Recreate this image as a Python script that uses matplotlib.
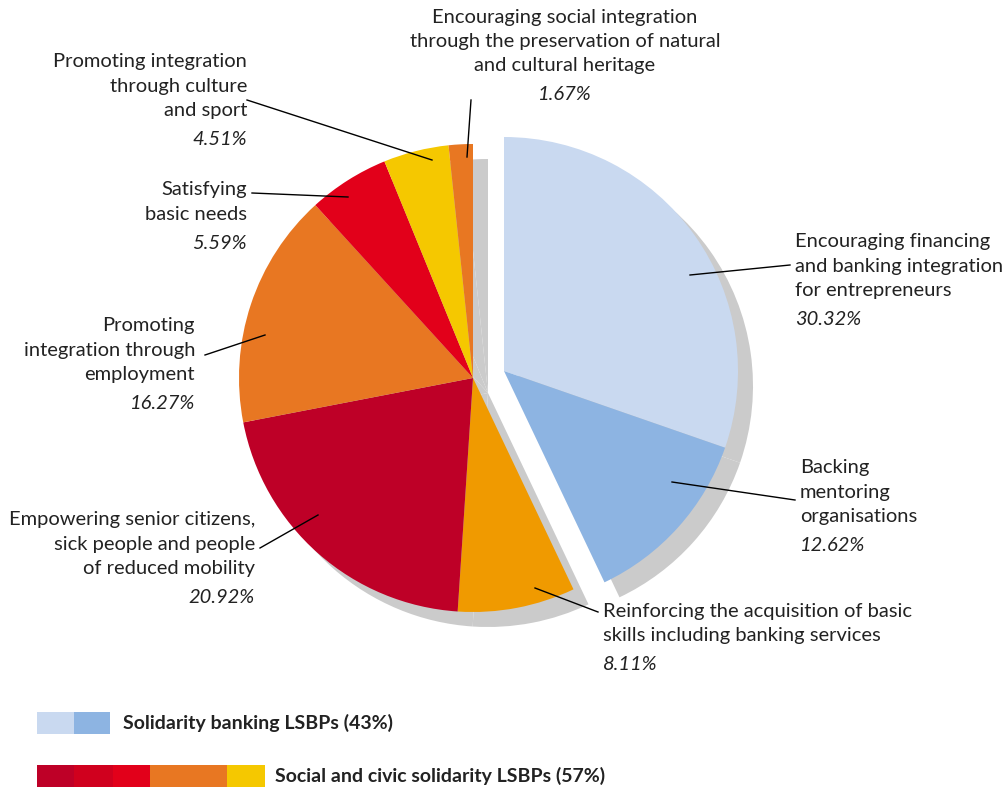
import matplotlib
matplotlib.use("Agg")
import matplotlib.pyplot as plt

plt.rcParams['font.family'] = ['Lato', 'DejaVu Sans']

# Data (clockwise from 12 o'clock)
labels = [
    "Encouraging financing\nand banking integration\nfor entrepreneurs",
    "Backing\nmentoring\norganisations",
    "Reinforcing the acquisition of basic\nskills including banking services",
    "Empowering senior citizens,\nsick people and people\nof reduced mobility",
    "Promoting\nintegration through\nemployment",
    "Satisfying\nbasic needs",
    "Promoting integration\nthrough culture\nand sport",
    "Encouraging social integration\nthrough the preservation of natural\nand cultural heritage",
]
values = [30.32, 12.62, 8.11, 20.92, 16.27, 5.59, 4.51, 1.67]
pct_labels = ["30.32%", "12.62%", "8.11%", "20.92%", "16.27%", "5.59%", "4.51%", "1.67%"]
colors = ["#C9D9F0", "#8DB4E2", "#F09A00", "#BE0027", "#E87722", "#E2001A", "#F5C800", "#E87722"]
exploded = [True, True, False, False, False, False, False, False]

legend_labels = ["Solidarity banking LSBPs (43%)", "Social and civic solidarity LSBPs (57%)"]
legend_colors = [["#C9D9F0", "#8DB4E2"],
                 ["#BE0027", "#D0001E", "#E2001A", "#E87722", "#E87722", "#F5C800"]]

W, H = 1008, 792
fig = plt.figure(figsize=(W / 100, H / 100), dpi=100)
ax = fig.add_axes([0, 0, 1, 1])

def Y(y):
    return H - y

cx, cy, R = 473, Y(378), 234
ex_dx, ex_dy = 31, 7
sh_dx, sh_dy = 15, -15

def draw_pie(center_shift, cols):
    wedges, _ = ax.pie(values, colors=cols, startangle=90, counterclock=False,
                       radius=R, center=(cx, cy), frame=True,
                       wedgeprops=dict(linewidth=0))
    for w, e in zip(wedges, exploded):
        c = (cx + center_shift[0] + (ex_dx if e else 0),
             cy + center_shift[1] + (ex_dy if e else 0))
        w.set_center(c)
    return wedges

draw_pie((sh_dx, sh_dy), ["#CBCBCB"] * len(values))
draw_pie((0, 0), colors)
ax.set_xlim(0, W)
ax.set_ylim(0, H)
ax.set_aspect('equal')
ax.axis('off')

fs = 14.5
label_pos = [
    (795, 242, 'left', (690, 275), (790, 265)),
    (800, 468, 'left', (672, 482), (795, 500)),
    (603, 611, 'left', (535, 588), (598, 612)),
    (255, 520, 'right', (318, 515), (260, 548)),
    (195, 326, 'right', (265, 335), (205, 355)),
    (247, 190, 'right', (348, 197), (252, 193)),
    (247, 62, 'right', (432, 160), (247, 100)),
    (565, 17, 'center', (467, 157), (471, 100)),
]
line_h = 24.3
for lab, pct, (x, y0, ha, p1, p2) in zip(labels, pct_labels, label_pos):
    lines = lab.split("\n")
    for i, ln in enumerate(lines):
        ax.text(x, Y(y0 + i * line_h), ln, ha=ha, va='center', fontsize=fs, color='#222222')
    ax.text(x, Y(y0 + len(lines) * line_h + 5), pct, ha=ha, va='center', fontsize=fs,
            style='italic', color='#222222')
    ax.plot([p1[0], p2[0]], [Y(p1[1]), Y(p2[1])], color='black', lw=1)

# legend
seg_edges = [[37, 74, 110], [37, 74, 113, 150, 188, 227, 265]]
rows_y = [(712, 734), (765, 787)]
text_x = [123, 275]
for r in range(2):
    ys = rows_y[r]
    e = seg_edges[r]
    for i, col in enumerate(legend_colors[r]):
        ax.add_patch(plt.Rectangle((e[i], Y(ys[1])), e[i + 1] - e[i], ys[1] - ys[0],
                                   facecolor=col, edgecolor='none'))
    ax.text(text_x[r], Y((ys[0] + ys[1]) / 2), legend_labels[r], ha='left', va='center',
            fontsize=14, fontweight='bold', color='#222222')

fig.savefig("out.png", dpi=100)
